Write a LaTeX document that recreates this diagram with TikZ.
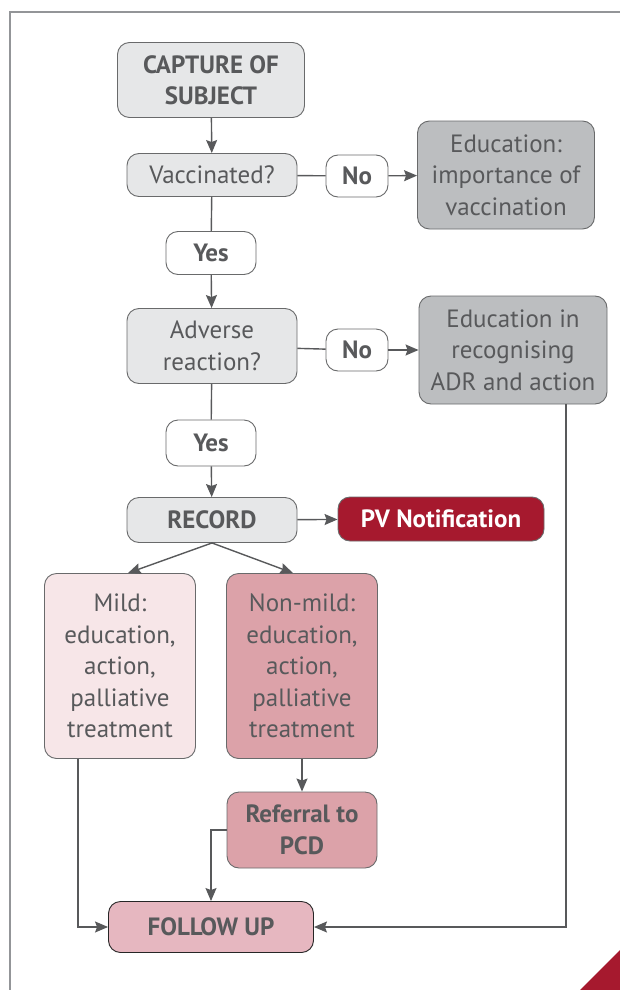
\documentclass[tikz,border=0pt]{standalone}
\usepackage{fontspec}
\setmainfont{PT Sans}
\usepackage{tikz}
\usetikzlibrary{arrows.meta}

\definecolor{inkgrey}{HTML}{58595B}
\definecolor{framegrey}{HTML}{939598}
\definecolor{boxgrey}{HTML}{E6E7E8}
\definecolor{edugrey}{HTML}{BCBEC0}
\definecolor{pvred}{HTML}{A6192E}
\definecolor{mildpink}{HTML}{F7E6E8}
\definecolor{nonmildpink}{HTML}{DCA2A9}
\definecolor{followpink}{HTML}{E6B7C0}

\tikzset{
  box/.style={draw=inkgrey!90, line width=0.9pt, rounded corners=12pt, align=center,
    text=inkgrey, font=\fontsize{25}{31.5}\selectfont, inner sep=0pt},
  boldbox/.style={box, font=\fontsize{25}{31.5}\selectfont\bfseries},
  answer/.style={boldbox, fill=white, minimum width=62pt, minimum height=42pt},
  link/.style={draw=inkgrey, line width=1.4pt},
  arr/.style={link, -{Stealth[length=13pt,width=11pt,inset=2pt]}}
}

\begin{document}
\begin{tikzpicture}[x=1pt,y=-1pt]
\useasboundingbox (0,0) rectangle (620,990);

% Frame and corner
\draw[framegrey, line width=1.5pt] (10,990) -- (10,12) -- (620,12);
\fill[pvred] (580,990) -- (620,950) -- (620,990) -- cycle;

% Main column
\node[boldbox, fill=boxgrey, minimum width=187pt, minimum height=75pt] (capture) at (211,80) {CAPTURE OF\\SUBJECT};
\node[box, fill=boxgrey, minimum width=170pt, minimum height=43pt] (vacc) at (212,175) {Vaccinated?};
\node[answer, minimum width=90pt, minimum height=43pt] (yesone) at (211,253) {Yes};
\node[box, fill=boxgrey, minimum width=170pt, minimum height=75pt] (adverse) at (212,346) {Adverse\\reaction?};
\node[answer, minimum width=90pt, minimum height=46pt] (yestwo) at (211,443) {Yes};
\node[boldbox, fill=boxgrey, minimum width=170pt, minimum height=45pt] (record) at (212,520) {RECORD};

% Right column
\node[answer] (noone) at (357,176) {No};
\node[box, fill=edugrey, minimum width=177pt, minimum height=108pt] (eduone) at (506,175) {Education:\\importance of\\vaccination};
\node[answer] (notwo) at (357,350) {No};
\node[box, fill=edugrey, minimum width=188pt, minimum height=108pt] (edutwo) at (513,350) {Education in\\recognising\\ADR and action};
\node[boldbox, fill=pvred, text=white, minimum width=206pt, minimum height=44pt] (pv) at (441,519) {PV Notification};

% Outcomes
\node[box, fill=mildpink, minimum width=151pt, minimum height=185pt] (mild) at (120,666) {Mild:\\education,\\action,\\palliative\\treatment};
\node[box, fill=nonmildpink, minimum width=151pt, minimum height=185pt] (nonmild) at (302,666) {Non-mild:\\education,\\action,\\palliative\\treatment};
\node[boldbox, fill=nonmildpink, minimum width=150pt, minimum height=76pt] (referral) at (302,830) {Referral to\\PCD};
\node[boldbox, fill=followpink, draw=black!85, minimum width=205pt, minimum height=51pt] (follow) at (211,927) {FOLLOW UP};

% Connectors
\draw[arr] (capture) -- (vacc);
\draw[link] (vacc) -- (noone);
\draw[arr] (noone) -- (eduone);
\draw[link] (vacc) -- (yesone);
\draw[arr] (yesone) -- (adverse);
\draw[link] (adverse) -- (notwo);
\draw[arr] (notwo) -- (edutwo);
\draw[link] (adverse) -- (yestwo);
\draw[arr] (yestwo) -- (record);
\draw[arr] (record) -- (pv);
\draw[arr] (record.south) -- ([xshift=8pt]mild.north);
\draw[arr] (record.south) -- ([xshift=-9pt]nonmild.north);
\draw[arr] (nonmild) -- (referral);
\draw[arr] (referral.west) -| (follow.north);
\draw[arr] ([xshift=-42pt]mild.south) |- (follow.west);
\draw[arr] ([xshift=53pt]edutwo.south) |- (follow.east);
\end{tikzpicture}
\end{document}
